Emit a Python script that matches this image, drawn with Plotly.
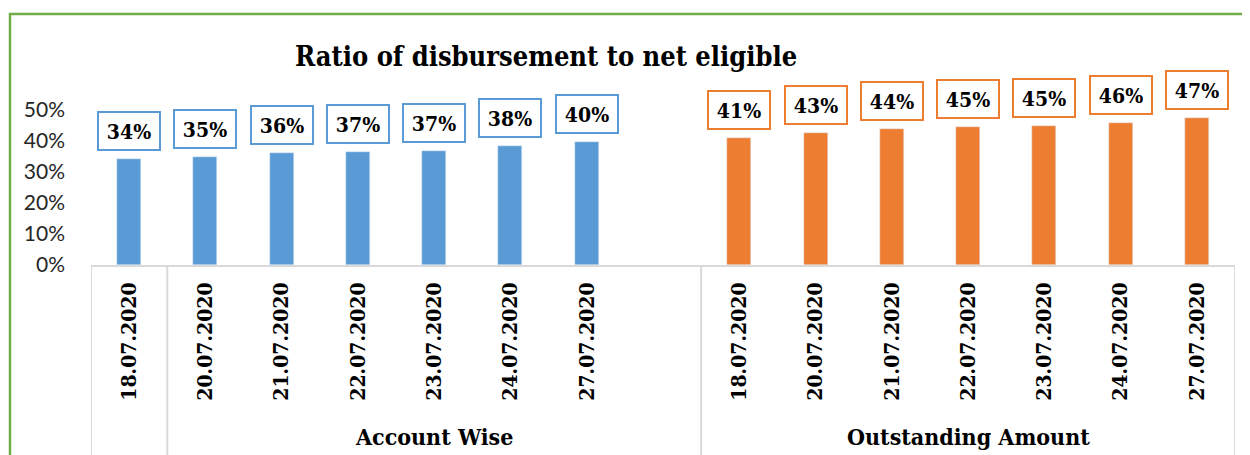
import plotly.graph_objects as go

# ---------------- data ----------------
dates = ["18.07.2020", "20.07.2020", "21.07.2020", "22.07.2020",
         "23.07.2020", "24.07.2020", "27.07.2020"]
account_wise = [0.3425, 0.348, 0.362, 0.366, 0.368, 0.3835, 0.398]
outstanding_amount = [0.410, 0.4265, 0.439, 0.4459, 0.449, 0.4588, 0.474]
group_names = ["Account Wise", "Outstanding Amount"]
y_tick_vals = [0, 0.1, 0.2, 0.3, 0.4, 0.5]
y_tick_text = ["0%", "10%", "20%", "30%", "40%", "50%"]
title_text = "Ratio of disbursement to net eligible"

# ---------------- layout constants (page pixels) ----------------
OFF = 8                      # default body margin of the html page
W, H = 1250 - OFF, 455 - OFF
PL, PR = 91, 1235            # plot area left / right (page px)
PT, PB = 110, 265            # plot area top / bottom (page px)
PW, PH = PR - PL, PB - PT

BLUE = "#5B9BD5"
ORANGE = "#ED7D31"
GREEN = "#70AD47"
GRID = "#D9D9D9"
SERIF = "DejaVu Serif Condensed, DejaVu Serif, serif"
SANS = "Lato, Open Sans, sans-serif"


def px_x(p):
    return (p - PL) / PW


def px_y(p):
    return (PB - p) / PH


n = len(dates)
x_blue = list(range(n))                      # slots 0..6
x_orange = [n + 1 + i for i in range(n)]     # slots 8..14 (slot 7 left empty)
n_slots = 2 * n + 1

fig = go.Figure()
fig.add_trace(go.Bar(x=x_blue, y=account_wise, marker_color=BLUE,
                     width=0.315, name=group_names[0], showlegend=False))
fig.add_trace(go.Bar(x=x_orange, y=outstanding_amount, marker_color=ORANGE,
                     width=0.315, name=group_names[1], showlegend=False))

annotations = []
for xs, vals, col in ((x_blue, account_wise, BLUE),
                      (x_orange, outstanding_amount, ORANGE)):
    for xv, v in zip(xs, vals):
        annotations.append(dict(
            x=xv, y=v, xref="x", yref="y", text=f"{round(v * 100):.0f}%",
            showarrow=False, yanchor="bottom", xanchor="center", yshift=8,
            font=dict(family=SERIF, size=21, color="black", weight="bold"),
            bgcolor="white", bordercolor=col, borderwidth=2, borderpad=2,
            width=56, height=32))

# group labels
group_centers = [(0.5 + n + 0.5) / 2, (n + 0.5 + n_slots - 0.5) / 2]
for gname, gc in zip(group_names, group_centers):
    annotations.append(dict(
        x=gc, y=px_y(437), xref="x", yref="paper", text=gname,
        showarrow=False, xanchor="center", yanchor="middle",
        font=dict(family=SERIF, size=23, color="black", weight="bold")))

# title
annotations.append(dict(
    x=px_x(546), y=px_y(57), xref="paper", yref="paper", text=title_text,
    showarrow=False, xanchor="center", yanchor="middle",
    font=dict(family=SERIF, size=27, color="black", weight="bold")))

shapes = []
# category dividers
for xd in (-0.5, 0.5, n + 0.5, n_slots - 0.5):
    shapes.append(dict(type="line", xref="x", yref="paper",
                       x0=xd, x1=xd, y0=0, y1=px_y(470),
                       line=dict(color=GRID, width=2)))
# outer green chart border
shapes.append(dict(type="rect", xref="paper", yref="paper",
                   x0=px_x(10), x1=px_x(1275), y0=px_y(14), y1=px_y(480),
                   line=dict(color=GREEN, width=2.5), fillcolor="rgba(0,0,0,0)",
                   layer="below"))

fig.update_layout(
    width=W, height=H,
    margin=dict(l=PL - OFF, r=1250 - PR, t=PT - OFF, b=455 - PB, pad=0),
    paper_bgcolor="white", plot_bgcolor="white",
    bargap=0,
    annotations=annotations, shapes=shapes,
    xaxis=dict(range=[-0.5, n_slots - 0.5], tickvals=x_blue + x_orange,
               ticktext=dates + dates, tickangle=-90, ticks="",
               showline=True, linecolor=GRID, linewidth=2,
               showgrid=False, zeroline=False, ticklabelstandoff=7,
               tickfont=dict(family=SERIF, size=21, color="black", weight="bold")),
    yaxis=dict(range=[0, 0.5], tickvals=y_tick_vals, ticktext=y_tick_text,
               showgrid=False, zeroline=False, showline=False, ticks="",
               ticklabelstandoff=25,
               tickfont=dict(family=SANS, size=21, color="#262626")),
)

fig.write_html("out.html")
